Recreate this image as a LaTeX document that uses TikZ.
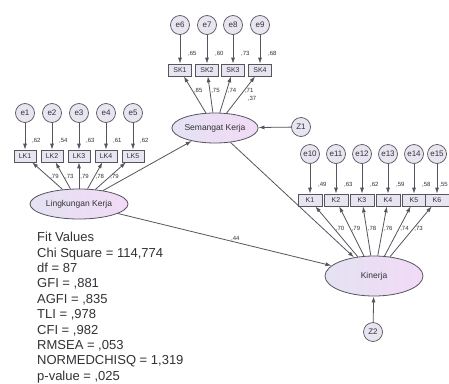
\documentclass[tikz,border=0pt]{standalone}
\usepackage{fontspec}
\setmainfont{Liberation Sans}
\usetikzlibrary{arrows.meta, shapes.geometric, positioning}

\definecolor{latleft}{RGB}{228,226,242}
\definecolor{latright}{RGB}{242,218,246}
\definecolor{obsfill}{RGB}{232,228,240}
\definecolor{edgegray}{RGB}{85,85,95}
\definecolor{txtgray}{RGB}{50,50,55}

\begin{document}
\begin{tikzpicture}[x=1pt, y=-1pt,
    latent/.style={ellipse, draw=edgegray, line width=0.8pt, left color=latleft, right color=latright, inner sep=0pt, text=txtgray, font=\fontsize{8.5}{10}\selectfont},
    indic/.style={rectangle, draw=edgegray, line width=0.7pt, fill=obsfill, minimum height=12pt, inner sep=0pt, text=txtgray, font=\fontsize{7}{8}\selectfont},
    errc/.style={circle, draw=edgegray, line width=0.7pt, fill=obsfill, minimum size=19pt, inner sep=0pt, text=txtgray, font=\fontsize{8}{9}\selectfont},
    coef/.style={inner sep=1pt, text=txtgray, font=\fontsize{6}{7}\selectfont},
    arrowline/.style={draw=edgegray, line width=0.8pt, -{Latex[length=6pt, width=4pt]}}]

    % Page frame
    \useasboundingbox[fill=white] (0,0) rectangle (449,383);

    % Latent variables
    \node[latent, minimum width=98pt, minimum height=30pt] (lingk) at (79,204) {Lingkungan Kerja};
    \node[latent, minimum width=86pt, minimum height=30pt] (semangat) at (215,128) {Semangat Kerja};
    \node[latent, minimum width=98pt, minimum height=40pt] (kinerja) at (374,276) {Kinerja};

    % Residuals
    \node[errc] (z1) at (301,127) {Z1};
    \node[errc] (z2) at (373,332) {Z2};
    \draw[arrowline] (z1) -- (semangat);
    \draw[arrowline] (z2) -- (kinerja);

    % Indicators of Lingkungan Kerja
    \foreach \n/\x/\r/\l in {1/25/{,62}/{,79}, 2/52/{,54}/{,73}, 3/79/{,63}/{,79}, 4/106/{,61}/{,78}, 5/133/{,62}/{,79}} {
        \node[indic, minimum width=22pt] (lk\n) at (\x,156) {LK\n};
        \node[errc] (e\n) at (\x,113) {e\n};
        \draw[arrowline] (e\n) -- (lk\n);
        \node[coef, anchor=west] (rlk\n) at (\x+6,141) {\r};
        \draw[arrowline] (lingk) -- node[coef, pos=0.45, right] {\l} (lk\n);
    }

    % Indicators of Semangat Kerja
    \foreach \n/\x/\r/\l in {1/180/{,65}/{,85}, 2/207/{,60}/{,75}, 3/233/{,73}/{,74}, 4/260/{,68}/{,71}} {
        \pgfmathtruncatemacro\eno{\n+5}
        \node[indic, minimum width=23pt] (sk\n) at (\x,70) {SK\n};
        \node[errc] (e\eno) at (\x,25) {e\eno};
        \draw[arrowline] (e\eno) -- (sk\n);
        \node[coef, anchor=west] (rsk\n) at (\x+7,54) {\r};
        \draw[arrowline] (semangat) -- node[coef, pos=0.6, right] {\l} (sk\n);
    }
    \node[coef] (rsem) at (252,99) {,37};

    % Indicators of Kinerja
    \foreach \n/\x/\r/\l in {1/310/{,49}/{,70}, 2/336/{,63}/{,79}, 3/362/{,62}/{,78}, 4/388/{,59}/{,76}, 5/414/{,58}/{,74}} {
        \pgfmathtruncatemacro\eno{\n+9}
        \node[indic, minimum width=24pt] (k\n) at (\x,200) {K\n};
        \node[errc] (e\eno) at (\x,154) {e\eno};
        \draw[arrowline] (e\eno) -- (k\n);
        \node[coef, anchor=west] (rk\n) at (\x+7,185) {\r};
        \draw[arrowline] (kinerja) -- node[coef, pos=0.55, right] {\l} (k\n);
    }
    \node[indic, minimum width=24pt] (k6) at (437,200) {K6};
    \node[errc] (e15) at (437,154) {e15};
    \draw[arrowline] (e15) -- (k6);
    \node[coef, anchor=east] (rk6) at (449,185) {,55};
    \draw[arrowline] (kinerja) -- node[coef, pos=0.55, right] {,73} (k6);

    % Structural paths
    \draw[arrowline] (lingk) -- (semangat);
    \draw[arrowline] (lingk) -- node[coef, pos=0.55, above] {,44} (kinerja);
    \draw[arrowline] (semangat) -- (kinerja);

    % Fit values
    \node[anchor=north west, align=left, inner sep=0pt, text=txtgray, font=\fontsize{13}{15.4}\selectfont] (fit) at (37,232) {Fit Values\\
        Chi Square = 114,774\\
        df = 87\\
        GFI = ,881\\
        AGFI = ,835\\
        TLI = ,978\\
        CFI = ,982\\
        RMSEA = ,053\\
        NORMEDCHISQ = 1,319\\
        p-value = ,025};
\end{tikzpicture}
\end{document}
